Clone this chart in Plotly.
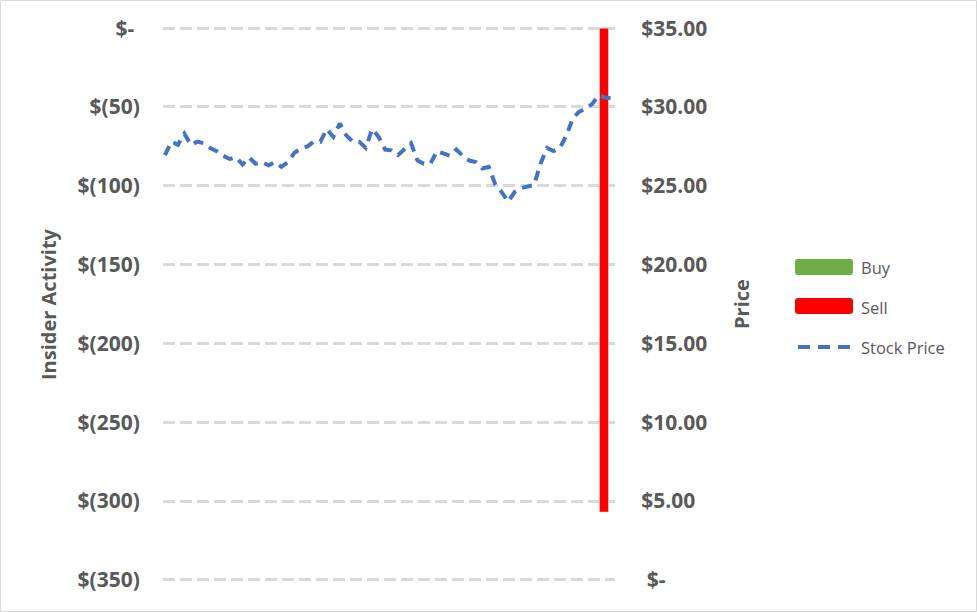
import plotly.graph_objects as go

# ---- data ----
days = list(range(70))
stock_price = [26.95, 27.8, 27.6, 28.3, 27.6, 27.8, 27.7, 27.4, 27.2, 26.9,
               26.7, 26.8, 26.35, 26.8, 26.4, 26.5, 26.3, 26.5, 26.2, 26.5,
               27.1, 27.35, 27.5, 27.8, 27.8, 28.6, 28.1, 28.95, 28.2, 27.8,
               27.8, 27.4, 28.6, 28.1, 27.3, 27.25, 26.95, 27.3, 27.7, 26.6,
               26.4, 26.4, 27.2, 27.05, 26.9, 27.3, 26.9, 26.6, 26.5, 26.1,
               26.2, 25.1, 24.6, 24.0, 24.6, 24.85, 24.95, 25.05, 26.4, 27.4,
               27.2, 27.4, 28.2, 29.3, 29.7, 29.9, 30.2, 30.75, 30.6, 30.55]
buy_days = [67.8]
buy_values = [0]
sell_days = [67.8]
sell_values = [-307]

left_ticks = [0, -50, -100, -150, -200, -250, -300, -350]
left_ticktext = ["$-\u00a0", "$(50)", "$(100)", "$(150)", "$(200)", "$(250)", "$(300)", "$(350)"]
right_ticks = [0, 5, 10, 15, 20, 25, 30, 35]
right_ticktext = ["\u00a0$-", "$5.00", "$10.00", "$15.00", "$20.00", "$25.00", "$30.00", "$35.00"]

legend_names = ["Buy", "Sell", "Stock Price"]

FONT = "Open Sans"
GREY = "#595959"
GREEN, RED, BLUE = "#70AD47", "#FF0000", "#4472C4"

fig = go.Figure()
fig.add_trace(go.Bar(x=buy_days, y=buy_values, name=legend_names[0], marker_color=GREEN,
                     width=1.4, showlegend=False))
fig.add_trace(go.Bar(x=sell_days, y=sell_values, name=legend_names[1], marker_color=RED,
                     width=1.4, showlegend=False))
fig.add_trace(go.Scatter(x=days, y=stock_price, name=legend_names[2], mode="lines",
                         line=dict(color=BLUE, width=4, dash="10px,7px"),
                         yaxis="y2", showlegend=False))

L, R, T, B = 163, 362, 25, 29
pw, ph = 977 - L - R, 612 - T - B
pad = 2.0  # keep edge gridlines inside the plot area


def px(pix):
    return (pix - L) / pw


def py(pix):
    return (612 - B - pix) / ph


def rounded_rect(x0, y0, x1, y1, r):
    # pixel coords -> paper path with rounded corners
    X = lambda v: px(v)
    Y = lambda v: py(v)
    return (f"M {X(x0 + r)} {Y(y0)} L {X(x1 - r)} {Y(y0)} Q {X(x1)} {Y(y0)} {X(x1)} {Y(y0 + r)} "
            f"L {X(x1)} {Y(y1 - r)} Q {X(x1)} {Y(y1)} {X(x1 - r)} {Y(y1)} "
            f"L {X(x0 + r)} {Y(y1)} Q {X(x0)} {Y(y1)} {X(x0)} {Y(y1 - r)} "
            f"L {X(x0)} {Y(y0 + r)} Q {X(x0)} {Y(y0)} {X(x0 + r)} {Y(y0)} Z")


shapes = [dict(type="rect", xref="paper", yref="paper",
               x0=px(0.5), x1=px(976.5), y0=py(611.5), y1=py(0.5),
               line=dict(color="#D9D9D9", width=1), fillcolor="rgba(0,0,0,0)")]
# legend swatches
shapes.append(dict(type="path", xref="paper", yref="paper", path=rounded_rect(795, 259, 853, 275, 3),
                   fillcolor=GREEN, line=dict(width=0)))
shapes.append(dict(type="path", xref="paper", yref="paper", path=rounded_rect(795, 298, 853, 314, 3),
                   fillcolor=RED, line=dict(width=0)))
shapes.append(dict(type="line", xref="paper", yref="paper", x0=px(798), x1=px(851),
                   y0=py(347), y1=py(347), line=dict(color=BLUE, width=4, dash="12px,8px")))

annotations = [
    dict(text="Insider Activity", xref="paper", yref="paper",
         x=px(48), y=py(304), textangle=-90, showarrow=False,
         xanchor="center", yanchor="middle",
         font=dict(family=FONT, size=20, color=GREY, weight="bold")),
    dict(text="Price", xref="paper", yref="paper",
         x=px(741), y=py(304), textangle=-90, showarrow=False,
         xanchor="center", yanchor="middle",
         font=dict(family=FONT, size=20, color=GREY, weight="bold")),
]
for name, ypix in zip(legend_names, [267, 307, 347]):
    annotations.append(dict(text=name, xref="paper", yref="paper", x=px(859), y=py(ypix),
                            xanchor="left", yanchor="middle", showarrow=False,
                            font=dict(family=FONT, size=16.5, color=GREY)))

fig.update_layout(
    width=977, height=612,
    margin=dict(l=L, r=R, t=T, b=B),
    paper_bgcolor="white", plot_bgcolor="white",
    barmode="overlay",
    showlegend=False,
    xaxis=dict(range=[-0.3, 69.5], visible=False, showgrid=False, zeroline=False),
    yaxis=dict(range=[-350 - pad, 0 + pad], tickvals=left_ticks, ticktext=left_ticktext,
               tickfont=dict(family=FONT, size=21, color=GREY, weight="bold"),
               showgrid=True, gridcolor="#D9D9D9", griddash="12px,5px", gridwidth=3,
               zeroline=False, showline=False,
               ticks="outside", ticklen=18, tickcolor="rgba(0,0,0,0)"),
    yaxis2=dict(range=[0 - pad / 10, 35 + pad / 10], tickvals=right_ticks, ticktext=right_ticktext,
                overlaying="y", side="right",
                tickfont=dict(family=FONT, size=21, color=GREY, weight="bold"),
                showgrid=False, zeroline=False, showline=False,
                ticks="outside", ticklen=21, tickcolor="rgba(0,0,0,0)"),
    annotations=annotations,
    shapes=shapes,
)

fig.write_html("out.html", config={"displayModeBar": False},
               post_script="document.body.style.margin='0';document.body.style.overflow='hidden';")
